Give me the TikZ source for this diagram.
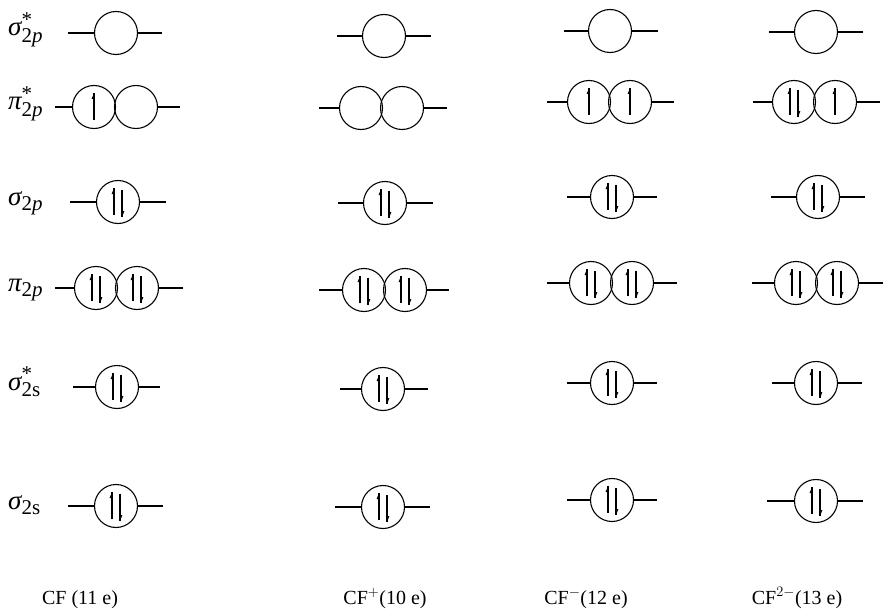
\documentclass[tikz,border=0pt]{standalone}
\usepackage{fontspec}
\setmainfont{Liberation Serif}
\tikzset{
  orb/.style={circle, draw, minimum size=43pt, inner sep=0pt, line width=1.1pt},
  stub/.style={line width=1.2pt},
  elec/.style={line width=1.1pt},
  lab/.style={inner sep=0pt, font=\fontsize{27}{30}\selectfont},
  mol/.style={inner sep=0pt, font=\fontsize{20}{24}\selectfont},
}
\newcommand\smallt[1]{\mbox{\fontsize{21}{21}\selectfont #1}}
\newcommand\olab[3]{$\mbox{\itshape #1}^{\smallt{#2}}_{\smallt{#3}}$}
\newcommand\plab[2]{$\mbox{\itshape #1}_{\smallt{#2}}$}
\newcommand\sorb[5]{%
  \node[orb] (#1) at (#2,#3) {};
  \coordinate (#1L) at (#4,#3); \coordinate (#1R) at (#5,#3);
  \draw[stub] (#1L) -- (#1.west); \draw[stub] (#1.east) -- (#1R);}
\newcommand\dorb[6]{%
  \node[orb] (#1a) at (#2,#4) {};
  \node[orb] (#1b) at (#3,#4) {};
  \coordinate (#1L) at (#5,#4); \coordinate (#1R) at (#6,#4);
  \draw[stub] (#1L) -- (#1a.west); \draw[stub] (#1b.east) -- (#1R);}
\newcommand\eup[2]{%
  \draw[elec] ([shift={(#2,13)}]#1.center) -- ([shift={(#2,-14)}]#1.center);
  \fill ([shift={(#2,-14)}]#1.center) -- ([shift={(#2-2.4,-8)}]#1.center) -- ([shift={(#2,-8)}]#1.center) -- cycle;}
\newcommand\edn[2]{%
  \draw[elec] ([shift={(#2,-12)}]#1.center) -- ([shift={(#2,15)}]#1.center);
  \fill ([shift={(#2,15)}]#1.center) -- ([shift={(#2+2.4,9)}]#1.center) -- ([shift={(#2,9)}]#1.center) -- cycle;}
\newcommand\epair[1]{\eup{#1}{-4}\edn{#1}{4}}
\begin{document}
\begin{tikzpicture}[x=1pt,y=-1pt]
\useasboundingbox (0,0) rectangle (884,610);
% level labels
\node[lab, anchor=base west] (l1) at (8,36) {\olab{σ}{*}{2\itshape p}};
\node[lab, anchor=base west] (l2) at (8,110) {\olab{π}{*}{2\itshape p}};
\node[lab, anchor=base west] (l3) at (8,205) {\plab{σ}{2\itshape p}};
\node[lab, anchor=base west] (l4) at (8,291) {\plab{π}{2\itshape p}};
\node[lab, anchor=base west] (l5) at (8,390) {\olab{σ}{*}{2s}};
\node[lab, anchor=base west] (l6) at (8,509) {\plab{σ}{2s}};
% column 1: CF
\sorb{aA}{116}{33}{68}{162}
\dorb{aB}{94}{136}{107}{55}{180}
\eup{aBa}{0}
\sorb{aC}{118}{202}{70}{166}
\epair{aC}
\dorb{aD}{96}{137}{288}{55}{183}
\epair{aDa}\epair{aDb}
\sorb{aE}{117}{387}{73}{160}
\epair{aE}
\sorb{aF}{116}{506}{68}{163}
\epair{aF}
% column 2: CF+
\sorb{bA}{384}{36}{337}{431}
\dorb{bB}{361}{402}{108}{319}{447}
\sorb{bC}{385}{203}{338}{433}
\epair{bC}
\dorb{bD}{364}{405}{290}{319}{449}
\epair{bDa}\epair{bDb}
\sorb{bE}{383}{389}{340}{428}
\epair{bE}
\sorb{bF}{383}{507}{335}{430}
\epair{bF}
% column 3: CF-
\sorb{cA}{610}{31}{564}{658}
\dorb{cB}{589}{630}{102}{547}{674}
\eup{cBa}{0}\eup{cBb}{0}
\sorb{cC}{612}{197}{567}{657}
\epair{cC}
\dorb{cD}{591}{632}{283}{547}{677}
\epair{cDa}\epair{cDb}
\sorb{cE}{612}{383}{567}{657}
\epair{cE}
\sorb{cF}{612}{500}{567}{657}
\epair{cF}
% column 4: CF2-
\sorb{dA}{816}{32}{769}{863}
\dorb{dB}{794}{835}{102}{753}{880}
\epair{dBa}\eup{dBb}{0}
\sorb{dC}{818}{197}{771}{865}
\epair{dC}
\dorb{dD}{796}{837}{283}{752}{883}
\epair{dDa}\epair{dDb}
\sorb{dE}{816}{383}{772}{862}
\epair{dE}
\sorb{dF}{816}{501}{767}{863}
\epair{dF}
% molecule labels
\node[mol, anchor=base] (m1) at (80,604) {CF (11 e)};
\node[mol, anchor=base] (m2) at (385,604) {CF$^{+}$(10 e)};
\node[mol, anchor=base] (m3) at (586,604) {CF$^{-}$(12 e)};
\node[mol, anchor=base] (m4) at (797,604) {CF$^{2-}$(13 e)};
\end{tikzpicture}
\end{document}
